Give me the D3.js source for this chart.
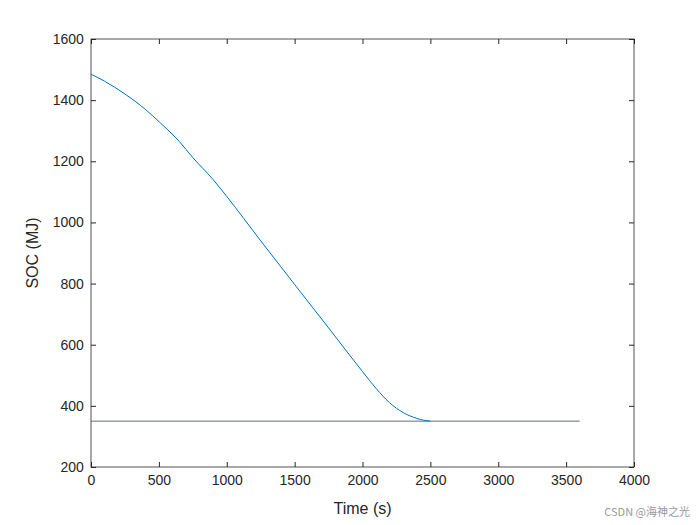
<!DOCTYPE html><html><head><meta charset="utf-8"><script src="https://cdn.jsdelivr.net/npm/d3@7"></script>
<style>body{margin:0;background:#fff}text{font-family:Arial,"Liberation Sans",sans-serif}</style></head><body><svg id="c" width="700" height="525"></svg>
<script>
const timeS=[0,100,250,400,500,650,750,900,1000,1250,1500,1750,2000,2100,2200,2300,2400,2450,2500];
const socMJ=[1485,1462,1420,1370,1330,1265,1212,1140,1085,940,797,655,512,457,410,378,359,353,350];
const limitT=[0,3600], limitV=[350,350];
const xTicks=[0,500,1000,1500,2000,2500,3000,3500,4000];
const yTicks=[200,400,600,800,1000,1200,1400,1600];
const svg=d3.select("#c");
const L=91,R=634,T=39,B=467;
const x=d3.scaleLinear().domain([0,4000]).range([L,R]);
const y=d3.scaleLinear().domain([200,1600]).range([B,T]);
svg.append("rect").attr("x",L).attr("y",T).attr("width",R-L).attr("height",B-T).attr("fill","#fff").attr("stroke","#262626").attr("stroke-width",0.8);
const fs="14px";
const xa=svg.append("g").attr("transform",`translate(0,${B})`).call(d3.axisBottom(x).tickValues(xTicks).tickSize(-5).tickFormat(d3.format("d")));
const xa2=svg.append("g").attr("transform",`translate(0,${T})`).call(d3.axisTop(x).tickValues(xTicks).tickSize(-5).tickFormat(""));
const ya=svg.append("g").attr("transform",`translate(${L},0)`).call(d3.axisLeft(y).tickValues(yTicks).tickSize(-5).tickFormat(d3.format("d")));
const ya2=svg.append("g").attr("transform",`translate(${R},0)`).call(d3.axisRight(y).tickValues(yTicks).tickSize(-5).tickFormat(""));
[xa,xa2,ya,ya2].forEach(a=>{a.select(".domain").remove();a.selectAll("line").attr("stroke","#262626");a.selectAll("text").attr("fill","#262626").style("font-size",fs);});
xa.selectAll("text").attr("dy","1.1em");
ya.selectAll("text").attr("dx","-0.3em");
const line=d3.line().x(d=>x(d[0])).y(d=>y(d[1]));
svg.append("path").datum(limitT.map((t,i)=>[t,limitV[i]])).attr("d",line).attr("fill","none").attr("stroke","#3c4a55").attr("stroke-width",0.8);
svg.append("path").datum(timeS.map((t,i)=>[t,socMJ[i]])).attr("d",line.curve(d3.curveMonotoneX)).attr("fill","none").attr("stroke","#0072bd").attr("stroke-width",1);
svg.append("text").attr("x",(L+R)/2).attr("y",514).attr("text-anchor","middle").attr("fill","#262626").style("font-size","16px").text("Time (s)");
svg.append("text").attr("transform",`translate(38,${(T+B)/2}) rotate(-90)`).attr("text-anchor","middle").attr("fill","#262626").style("font-size","16px").text("SOC (MJ)");
svg.append("text").attr("x",690).attr("y",516).attr("text-anchor","end").attr("fill","#999").style("font-size","11px").style("font-family","'Noto Sans CJK SC',sans-serif").text("CSDN @海神之光");
</script></body></html>
